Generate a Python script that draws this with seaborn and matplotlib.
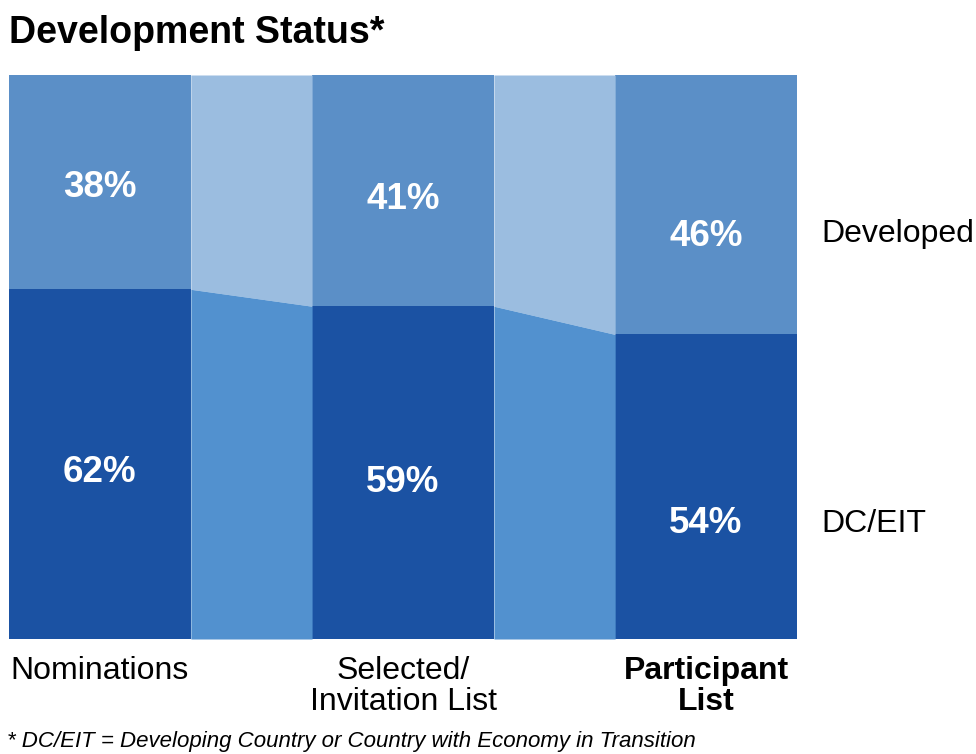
import matplotlib
matplotlib.use("Agg")
import matplotlib.pyplot as plt
import seaborn as sns
import pandas as pd
import numpy as np

categories = ["Nominations", "Selected/\nInvitation List", "Participant\nList"]
developed = [38, 41, 46]
dc_eit = [62, 59, 54]
series_names = ["Developed", "DC/EIT"]
title = "Development Status*"
footnote = "* DC/EIT = Developing Country or Country with Economy in Transition"

sns.set_theme(style="white")
plt.rcParams["font.family"] = ["Liberation Sans", "DejaVu Sans"]
plt.rcParams["text.color"] = "black"
plt.rcParams["xtick.color"] = "black"

col_dev = "#5B8FC7"
col_dc = "#1B52A3"
col_conn_top = "#9BBDE0"
col_conn_bot = "#5291CF"

fig = plt.figure(figsize=(9.76, 7.54), dpi=100)
ax = fig.add_axes([9 / 976, 1 - 639 / 754, (797 - 9) / 976, (639 - 75) / 754])

totals = [d + c for d, c in zip(developed, dc_eit)]
df = pd.DataFrame({"cat": categories, "total": totals, "dc": dc_eit, "dev": developed})

width = 0.6
sns.barplot(data=df, x="cat", y="total", color=col_dev, width=width, saturation=1,
            ax=ax, linewidth=0)
sns.barplot(data=df, x="cat", y="dc", color=col_dc, width=width, saturation=1,
            ax=ax, linewidth=0)

# connectors between bars
for i in range(len(categories) - 1):
    xs = [i + width / 2, i + 1 - width / 2]
    ys = [dc_eit[i], dc_eit[i + 1]]
    tops = [totals[i], totals[i + 1]]
    ax.fill_between(xs, ys, tops, color=col_conn_top, linewidth=0)
    ax.fill_between(xs, [0, 0], ys, color=col_conn_bot, linewidth=0)

# value labels
top_shift = [1.0, 1.5, 5.6]
bot_shift = [1.5, 1.8, 6.6]
for i in range(len(categories)):
    ax.text(i, totals[i] - developed[i] / 2 - top_shift[i], f"{developed[i]}%",
            ha="center", va="center", color="white", fontsize=26.5, fontweight="bold")
    ax.text(i, dc_eit[i] / 2 - bot_shift[i], f"{dc_eit[i]}%",
            ha="center", va="center", color="white", fontsize=26.5, fontweight="bold")

# series labels on the right
last = len(categories) - 1
ax.text(last + width / 2 + 0.08, totals[last] - developed[last] / 2 - top_shift[last] + 0.4,
        series_names[0], ha="left", va="center", fontsize=23, color="black")
ax.text(last + width / 2 + 0.08, dc_eit[last] / 2 - bot_shift[last],
        series_names[1], ha="left", va="center", fontsize=23, color="black")

ax.set_xlim(-width / 2, last + width / 2)
ax.set_ylim(0, 100)
ax.set_xlabel("")
ax.set_ylabel("")
ax.set_yticks([])
ax.set_xticks(range(len(categories)))
ax.set_xticklabels(categories, fontsize=23, linespacing=1.05, color="black")
ax.get_xticklabels()[-1].set_fontweight("bold")
ax.tick_params(axis="x", length=0, pad=12)
for s in ax.spines.values():
    s.set_visible(False)

fig.text(9 / 976, 1 - 33 / 754, title, fontsize=27, fontweight="bold",
         ha="left", va="center", color="black")
fig.text(7 / 976, 1 - 742 / 754, footnote, fontsize=16, style="italic",
         ha="left", va="center", color="black")

fig.savefig("out.png", dpi=100)
